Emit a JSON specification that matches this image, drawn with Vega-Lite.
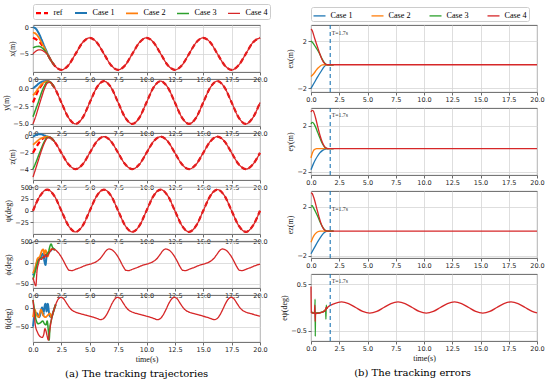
{
"$schema": "https://vega.github.io/schema/vega-lite/v6.json",
"background": "white",
"padding": {"left": 2, "top": 3, "right": 2, "bottom": 3},
"config": {
 "view": {"stroke": "#555", "strokeWidth": 0.9},
 "axis": {"labelFont": "DejaVu Sans", "labelFontSize": 6.5, "labelColor": "#222", "tickSize": 3, "tickColor": "#444", "tickWidth": 0.8, "domain": false, "grid": true, "gridColor": "#d6d6d6", "gridWidth": 0.8, "titleFont": "Liberation Serif", "titleFontSize": 8, "titleFontWeight": "normal", "titleColor": "#111", "labelPadding": 1.5, "titlePadding": 2, "labelFlush": false, "labelOverlap": false},
 "line": {"interpolate": "monotone", "strokeCap": "butt"}
},
"datasets": {
 "marker": [{"t": 1.7, "label": "T=1.7s"}],
 "px": [
  {"t":0,"s":"ref","v":-2},{"t":0.625,"s":"ref","v":-2.879},{"t":1.25,"s":"ref","v":-5},{"t":1.875,"s":"ref","v":-7.121},{"t":2.5,"s":"ref","v":-8},{"t":3.125,"s":"ref","v":-7.121},{"t":3.75,"s":"ref","v":-5},{"t":4.375,"s":"ref","v":-2.879},{"t":5,"s":"ref","v":-2},{"t":5.625,"s":"ref","v":-2.879},{"t":6.25,"s":"ref","v":-5},{"t":6.875,"s":"ref","v":-7.121},{"t":7.5,"s":"ref","v":-8},{"t":8.125,"s":"ref","v":-7.121},{"t":8.75,"s":"ref","v":-5},{"t":9.375,"s":"ref","v":-2.879},{"t":10,"s":"ref","v":-2},{"t":10.625,"s":"ref","v":-2.879},{"t":11.25,"s":"ref","v":-5},{"t":11.875,"s":"ref","v":-7.121},{"t":12.5,"s":"ref","v":-8},{"t":13.125,"s":"ref","v":-7.121},{"t":13.75,"s":"ref","v":-5},{"t":14.375,"s":"ref","v":-2.879},{"t":15,"s":"ref","v":-2},{"t":15.625,"s":"ref","v":-2.879},{"t":16.25,"s":"ref","v":-5},{"t":16.875,"s":"ref","v":-7.121},{"t":17.5,"s":"ref","v":-8},{"t":18.125,"s":"ref","v":-7.121},{"t":18.75,"s":"ref","v":-5},{"t":19.375,"s":"ref","v":-2.879},{"t":20,"s":"ref","v":-2},
  {"t":0,"s":"Case 1","v":0},{"t":0.25,"s":"Case 1","v":-0.3},{"t":0.5,"s":"Case 1","v":-1.1},{"t":0.75,"s":"Case 1","v":-2.3},{"t":1,"s":"Case 1","v":-3.6},{"t":1.25,"s":"Case 1","v":-4.8},{"t":1.4,"s":"Case 1","v":-5.56},{"t":1.5,"s":"Case 1","v":-5.93},{"t":1.875,"s":"Case 1","v":-7.121},
  {"t":0,"s":"Case 2","v":-1},{"t":0.25,"s":"Case 2","v":-1.25},{"t":0.5,"s":"Case 2","v":-1.9},{"t":0.75,"s":"Case 2","v":-2.9},{"t":1,"s":"Case 2","v":-3.9},{"t":1.25,"s":"Case 2","v":-4.95},{"t":1.4,"s":"Case 2","v":-5.56},{"t":1.5,"s":"Case 2","v":-5.93},{"t":1.875,"s":"Case 2","v":-7.121},
  {"t":0,"s":"Case 3","v":-3.9},{"t":0.25,"s":"Case 3","v":-3.65},{"t":0.5,"s":"Case 3","v":-3.6},{"t":0.75,"s":"Case 3","v":-3.8},{"t":1,"s":"Case 3","v":-4.3},{"t":1.25,"s":"Case 3","v":-5.0},{"t":1.4,"s":"Case 3","v":-5.56},{"t":1.5,"s":"Case 3","v":-5.93},{"t":1.875,"s":"Case 3","v":-7.121},
  {"t":0,"s":"Case 4","v":-5},{"t":0.25,"s":"Case 4","v":-4.5},{"t":0.5,"s":"Case 4","v":-4.25},{"t":0.75,"s":"Case 4","v":-4.3},{"t":1,"s":"Case 4","v":-4.6},{"t":1.25,"s":"Case 4","v":-5.05},{"t":1.4,"s":"Case 4","v":-5.56},{"t":1.5,"s":"Case 4","v":-5.93},{"t":1.875,"s":"Case 4","v":-7.121},
  {"t":2.5,"s":"Case 4","v":-8},{"t":3.125,"s":"Case 4","v":-7.121},{"t":3.75,"s":"Case 4","v":-5},{"t":4.375,"s":"Case 4","v":-2.879},{"t":5,"s":"Case 4","v":-2},{"t":5.625,"s":"Case 4","v":-2.879},{"t":6.25,"s":"Case 4","v":-5},{"t":6.875,"s":"Case 4","v":-7.121},{"t":7.5,"s":"Case 4","v":-8},{"t":8.125,"s":"Case 4","v":-7.121},{"t":8.75,"s":"Case 4","v":-5},{"t":9.375,"s":"Case 4","v":-2.879},{"t":10,"s":"Case 4","v":-2},{"t":10.625,"s":"Case 4","v":-2.879},{"t":11.25,"s":"Case 4","v":-5},{"t":11.875,"s":"Case 4","v":-7.121},{"t":12.5,"s":"Case 4","v":-8},{"t":13.125,"s":"Case 4","v":-7.121},{"t":13.75,"s":"Case 4","v":-5},{"t":14.375,"s":"Case 4","v":-2.879},{"t":15,"s":"Case 4","v":-2},{"t":15.625,"s":"Case 4","v":-2.879},{"t":16.25,"s":"Case 4","v":-5},{"t":16.875,"s":"Case 4","v":-7.121},{"t":17.5,"s":"Case 4","v":-8},{"t":18.125,"s":"Case 4","v":-7.121},{"t":18.75,"s":"Case 4","v":-5},{"t":19.375,"s":"Case 4","v":-2.879},{"t":20,"s":"Case 4","v":-2}
 ],
 "py": [
  {"t":0,"s":"ref","v":-2},{"t":0.625,"s":"ref","v":0.121},{"t":1.25,"s":"ref","v":1},{"t":1.875,"s":"ref","v":0.121},{"t":2.5,"s":"ref","v":-2},{"t":3.125,"s":"ref","v":-4.121},{"t":3.75,"s":"ref","v":-5},{"t":4.375,"s":"ref","v":-4.121},{"t":5,"s":"ref","v":-2},{"t":5.625,"s":"ref","v":0.121},{"t":6.25,"s":"ref","v":1},{"t":6.875,"s":"ref","v":0.121},{"t":7.5,"s":"ref","v":-2},{"t":8.125,"s":"ref","v":-4.121},{"t":8.75,"s":"ref","v":-5},{"t":9.375,"s":"ref","v":-4.121},{"t":10,"s":"ref","v":-2},{"t":10.625,"s":"ref","v":0.121},{"t":11.25,"s":"ref","v":1},{"t":11.875,"s":"ref","v":0.121},{"t":12.5,"s":"ref","v":-2},{"t":13.125,"s":"ref","v":-4.121},{"t":13.75,"s":"ref","v":-5},{"t":14.375,"s":"ref","v":-4.121},{"t":15,"s":"ref","v":-2},{"t":15.625,"s":"ref","v":0.121},{"t":16.25,"s":"ref","v":1},{"t":16.875,"s":"ref","v":0.121},{"t":17.5,"s":"ref","v":-2},{"t":18.125,"s":"ref","v":-4.121},{"t":18.75,"s":"ref","v":-5},{"t":19.375,"s":"ref","v":-4.121},{"t":20,"s":"ref","v":-2},
  {"t":0,"s":"Case 1","v":0},{"t":0.25,"s":"Case 1","v":0.3},{"t":0.5,"s":"Case 1","v":0.65},{"t":0.75,"s":"Case 1","v":0.9},{"t":1,"s":"Case 1","v":1.0},{"t":1.25,"s":"Case 1","v":1.0},{"t":1.5,"s":"Case 1","v":0.853},{"t":1.875,"s":"Case 1","v":0.121},
  {"t":0,"s":"Case 2","v":-1},{"t":0.25,"s":"Case 2","v":-0.5},{"t":0.5,"s":"Case 2","v":0.05},{"t":0.75,"s":"Case 2","v":0.55},{"t":1,"s":"Case 2","v":0.85},{"t":1.25,"s":"Case 2","v":0.98},{"t":1.5,"s":"Case 2","v":0.853},{"t":1.875,"s":"Case 2","v":0.121},
  {"t":0,"s":"Case 3","v":-4},{"t":0.25,"s":"Case 3","v":-2.9},{"t":0.5,"s":"Case 3","v":-1.8},{"t":0.75,"s":"Case 3","v":-0.6},{"t":1,"s":"Case 3","v":0.3},{"t":1.25,"s":"Case 3","v":0.85},{"t":1.5,"s":"Case 3","v":0.853},{"t":1.875,"s":"Case 3","v":0.121},
  {"t":0,"s":"Case 4","v":-5},{"t":0.25,"s":"Case 4","v":-3.9},{"t":0.5,"s":"Case 4","v":-2.6},{"t":0.75,"s":"Case 4","v":-1.3},{"t":1,"s":"Case 4","v":-0.1},{"t":1.25,"s":"Case 4","v":0.7},{"t":1.5,"s":"Case 4","v":0.853},{"t":1.875,"s":"Case 4","v":0.121},
  {"t":2.5,"s":"Case 4","v":-2},{"t":3.125,"s":"Case 4","v":-4.121},{"t":3.75,"s":"Case 4","v":-5},{"t":4.375,"s":"Case 4","v":-4.121},{"t":5,"s":"Case 4","v":-2},{"t":5.625,"s":"Case 4","v":0.121},{"t":6.25,"s":"Case 4","v":1},{"t":6.875,"s":"Case 4","v":0.121},{"t":7.5,"s":"Case 4","v":-2},{"t":8.125,"s":"Case 4","v":-4.121},{"t":8.75,"s":"Case 4","v":-5},{"t":9.375,"s":"Case 4","v":-4.121},{"t":10,"s":"Case 4","v":-2},{"t":10.625,"s":"Case 4","v":0.121},{"t":11.25,"s":"Case 4","v":1},{"t":11.875,"s":"Case 4","v":0.121},{"t":12.5,"s":"Case 4","v":-2},{"t":13.125,"s":"Case 4","v":-4.121},{"t":13.75,"s":"Case 4","v":-5},{"t":14.375,"s":"Case 4","v":-4.121},{"t":15,"s":"Case 4","v":-2},{"t":15.625,"s":"Case 4","v":0.121},{"t":16.25,"s":"Case 4","v":1},{"t":16.875,"s":"Case 4","v":0.121},{"t":17.5,"s":"Case 4","v":-2},{"t":18.125,"s":"Case 4","v":-4.121},{"t":18.75,"s":"Case 4","v":-5},{"t":19.375,"s":"Case 4","v":-4.121},{"t":20,"s":"Case 4","v":-2}
 ],
 "pz": [
  {"t":0,"s":"ref","v":-2},{"t":0.625,"s":"ref","v":-0.586},{"t":1.25,"s":"ref","v":0},{"t":1.875,"s":"ref","v":-0.586},{"t":2.5,"s":"ref","v":-2},{"t":3.125,"s":"ref","v":-3.414},{"t":3.75,"s":"ref","v":-4},{"t":4.375,"s":"ref","v":-3.414},{"t":5,"s":"ref","v":-2},{"t":5.625,"s":"ref","v":-0.586},{"t":6.25,"s":"ref","v":0},{"t":6.875,"s":"ref","v":-0.586},{"t":7.5,"s":"ref","v":-2},{"t":8.125,"s":"ref","v":-3.414},{"t":8.75,"s":"ref","v":-4},{"t":9.375,"s":"ref","v":-3.414},{"t":10,"s":"ref","v":-2},{"t":10.625,"s":"ref","v":-0.586},{"t":11.25,"s":"ref","v":0},{"t":11.875,"s":"ref","v":-0.586},{"t":12.5,"s":"ref","v":-2},{"t":13.125,"s":"ref","v":-3.414},{"t":13.75,"s":"ref","v":-4},{"t":14.375,"s":"ref","v":-3.414},{"t":15,"s":"ref","v":-2},{"t":15.625,"s":"ref","v":-0.586},{"t":16.25,"s":"ref","v":0},{"t":16.875,"s":"ref","v":-0.586},{"t":17.5,"s":"ref","v":-2},{"t":18.125,"s":"ref","v":-3.414},{"t":18.75,"s":"ref","v":-4},{"t":19.375,"s":"ref","v":-3.414},{"t":20,"s":"ref","v":-2},
  {"t":0,"s":"Case 1","v":0},{"t":0.25,"s":"Case 1","v":0.2},{"t":0.5,"s":"Case 1","v":0.3},{"t":0.75,"s":"Case 1","v":0.28},{"t":1,"s":"Case 1","v":0.15},{"t":1.25,"s":"Case 1","v":0.02},{"t":1.5,"s":"Case 1","v":-0.098},{"t":1.875,"s":"Case 1","v":-0.586},
  {"t":0,"s":"Case 2","v":-1},{"t":0.25,"s":"Case 2","v":-0.7},{"t":0.5,"s":"Case 2","v":-0.4},{"t":0.75,"s":"Case 2","v":-0.2},{"t":1,"s":"Case 2","v":-0.05},{"t":1.25,"s":"Case 2","v":0},{"t":1.5,"s":"Case 2","v":-0.098},{"t":1.875,"s":"Case 2","v":-0.586},
  {"t":0,"s":"Case 3","v":-4},{"t":0.25,"s":"Case 3","v":-3.2},{"t":0.5,"s":"Case 3","v":-2.3},{"t":0.75,"s":"Case 3","v":-1.4},{"t":1,"s":"Case 3","v":-0.6},{"t":1.25,"s":"Case 3","v":-0.1},{"t":1.5,"s":"Case 3","v":-0.098},{"t":1.875,"s":"Case 3","v":-0.586},
  {"t":0,"s":"Case 4","v":-5},{"t":0.25,"s":"Case 4","v":-3.9},{"t":0.5,"s":"Case 4","v":-2.8},{"t":0.75,"s":"Case 4","v":-1.7},{"t":1,"s":"Case 4","v":-0.8},{"t":1.25,"s":"Case 4","v":-0.2},{"t":1.5,"s":"Case 4","v":-0.098},{"t":1.875,"s":"Case 4","v":-0.586},
  {"t":2.5,"s":"Case 4","v":-2},{"t":3.125,"s":"Case 4","v":-3.414},{"t":3.75,"s":"Case 4","v":-4},{"t":4.375,"s":"Case 4","v":-3.414},{"t":5,"s":"Case 4","v":-2},{"t":5.625,"s":"Case 4","v":-0.586},{"t":6.25,"s":"Case 4","v":0},{"t":6.875,"s":"Case 4","v":-0.586},{"t":7.5,"s":"Case 4","v":-2},{"t":8.125,"s":"Case 4","v":-3.414},{"t":8.75,"s":"Case 4","v":-4},{"t":9.375,"s":"Case 4","v":-3.414},{"t":10,"s":"Case 4","v":-2},{"t":10.625,"s":"Case 4","v":-0.586},{"t":11.25,"s":"Case 4","v":0},{"t":11.875,"s":"Case 4","v":-0.586},{"t":12.5,"s":"Case 4","v":-2},{"t":13.125,"s":"Case 4","v":-3.414},{"t":13.75,"s":"Case 4","v":-4},{"t":14.375,"s":"Case 4","v":-3.414},{"t":15,"s":"Case 4","v":-2},{"t":15.625,"s":"Case 4","v":-0.586},{"t":16.25,"s":"Case 4","v":0},{"t":16.875,"s":"Case 4","v":-0.586},{"t":17.5,"s":"Case 4","v":-2},{"t":18.125,"s":"Case 4","v":-3.414},{"t":18.75,"s":"Case 4","v":-4},{"t":19.375,"s":"Case 4","v":-3.414},{"t":20,"s":"Case 4","v":-2}
 ],
 "ppsi": [
  {"t":0,"s":"ref","v":0},{"t":0.625,"s":"ref","v":31.82},{"t":1.25,"s":"ref","v":45},{"t":1.875,"s":"ref","v":31.82},{"t":2.5,"s":"ref","v":0},{"t":3.125,"s":"ref","v":-31.82},{"t":3.75,"s":"ref","v":-45},{"t":4.375,"s":"ref","v":-31.82},{"t":5,"s":"ref","v":0},{"t":5.625,"s":"ref","v":31.82},{"t":6.25,"s":"ref","v":45},{"t":6.875,"s":"ref","v":31.82},{"t":7.5,"s":"ref","v":0},{"t":8.125,"s":"ref","v":-31.82},{"t":8.75,"s":"ref","v":-45},{"t":9.375,"s":"ref","v":-31.82},{"t":10,"s":"ref","v":0},{"t":10.625,"s":"ref","v":31.82},{"t":11.25,"s":"ref","v":45},{"t":11.875,"s":"ref","v":31.82},{"t":12.5,"s":"ref","v":0},{"t":13.125,"s":"ref","v":-31.82},{"t":13.75,"s":"ref","v":-45},{"t":14.375,"s":"ref","v":-31.82},{"t":15,"s":"ref","v":0},{"t":15.625,"s":"ref","v":31.82},{"t":16.25,"s":"ref","v":45},{"t":16.875,"s":"ref","v":31.82},{"t":17.5,"s":"ref","v":0},{"t":18.125,"s":"ref","v":-31.82},{"t":18.75,"s":"ref","v":-45},{"t":19.375,"s":"ref","v":-31.82},{"t":20,"s":"ref","v":0},
  {"t":0,"s":"Case 4","v":0},{"t":0.625,"s":"Case 4","v":31.82},{"t":1.25,"s":"Case 4","v":45},{"t":1.875,"s":"Case 4","v":31.82},{"t":2.5,"s":"Case 4","v":0},{"t":3.125,"s":"Case 4","v":-31.82},{"t":3.75,"s":"Case 4","v":-45},{"t":4.375,"s":"Case 4","v":-31.82},{"t":5,"s":"Case 4","v":0},{"t":5.625,"s":"Case 4","v":31.82},{"t":6.25,"s":"Case 4","v":45},{"t":6.875,"s":"Case 4","v":31.82},{"t":7.5,"s":"Case 4","v":0},{"t":8.125,"s":"Case 4","v":-31.82},{"t":8.75,"s":"Case 4","v":-45},{"t":9.375,"s":"Case 4","v":-31.82},{"t":10,"s":"Case 4","v":0},{"t":10.625,"s":"Case 4","v":31.82},{"t":11.25,"s":"Case 4","v":45},{"t":11.875,"s":"Case 4","v":31.82},{"t":12.5,"s":"Case 4","v":0},{"t":13.125,"s":"Case 4","v":-31.82},{"t":13.75,"s":"Case 4","v":-45},{"t":14.375,"s":"Case 4","v":-31.82},{"t":15,"s":"Case 4","v":0},{"t":15.625,"s":"Case 4","v":31.82},{"t":16.25,"s":"Case 4","v":45},{"t":16.875,"s":"Case 4","v":31.82},{"t":17.5,"s":"Case 4","v":0},{"t":18.125,"s":"Case 4","v":-31.82},{"t":18.75,"s":"Case 4","v":-45},{"t":19.375,"s":"Case 4","v":-31.82},{"t":20,"s":"Case 4","v":0}
 ],
 "pphi": [
  {"t":0,"s":"Case 1","v":-30},{"t":0.2,"s":"Case 1","v":-15},{"t":0.4,"s":"Case 1","v":5},{"t":0.6,"s":"Case 1","v":10},{"t":0.8,"s":"Case 1","v":20},{"t":0.9,"s":"Case 1","v":22},{"t":1.0,"s":"Case 1","v":5},{"t":1.1,"s":"Case 1","v":-5},{"t":1.2,"s":"Case 1","v":15},{"t":1.4,"s":"Case 1","v":25},{"t":1.6,"s":"Case 1","v":30},{"t":1.7,"s":"Case 1","v":33},{"t":1.95,"s":"Case 1","v":31},
  {"t":0,"s":"Case 2","v":-25},{"t":0.2,"s":"Case 2","v":-10},{"t":0.4,"s":"Case 2","v":10},{"t":0.6,"s":"Case 2","v":15},{"t":0.8,"s":"Case 2","v":30},{"t":0.9,"s":"Case 2","v":32},{"t":1.0,"s":"Case 2","v":20},{"t":1.1,"s":"Case 2","v":30},{"t":1.2,"s":"Case 2","v":25},{"t":1.3,"s":"Case 2","v":15},{"t":1.45,"s":"Case 2","v":28},{"t":1.7,"s":"Case 2","v":33},{"t":1.95,"s":"Case 2","v":31},
  {"t":0,"s":"Case 3","v":-40},{"t":0.2,"s":"Case 3","v":-20},{"t":0.4,"s":"Case 3","v":0},{"t":0.6,"s":"Case 3","v":10},{"t":0.8,"s":"Case 3","v":12},{"t":1.0,"s":"Case 3","v":15},{"t":1.2,"s":"Case 3","v":20},{"t":1.35,"s":"Case 3","v":25},{"t":1.5,"s":"Case 3","v":40},{"t":1.6,"s":"Case 3","v":45},{"t":1.7,"s":"Case 3","v":38},{"t":1.85,"s":"Case 3","v":33},{"t":1.95,"s":"Case 3","v":31},
  {"t":0,"s":"Case 4","v":-35},{"t":0.1,"s":"Case 4","v":-45},{"t":0.25,"s":"Case 4","v":-55},{"t":0.35,"s":"Case 4","v":-20},{"t":0.5,"s":"Case 4","v":0},{"t":0.6,"s":"Case 4","v":10},{"t":0.75,"s":"Case 4","v":8},{"t":0.9,"s":"Case 4","v":15},{"t":1.0,"s":"Case 4","v":12},{"t":1.1,"s":"Case 4","v":20},{"t":1.2,"s":"Case 4","v":15},{"t":1.3,"s":"Case 4","v":18},{"t":1.45,"s":"Case 4","v":25},{"t":1.6,"s":"Case 4","v":30},
  {"t":1.7,"s":"Case 4","v":33},{"t":1.95,"s":"Case 4","v":31},{"t":2.2,"s":"Case 4","v":25},{"t":2.45,"s":"Case 4","v":16},{"t":2.7,"s":"Case 4","v":4},{"t":2.95,"s":"Case 4","v":-9},{"t":3.2,"s":"Case 4","v":-18},{"t":3.45,"s":"Case 4","v":-18.5},{"t":3.7,"s":"Case 4","v":-16},{"t":3.95,"s":"Case 4","v":-13.5},{"t":4.2,"s":"Case 4","v":-11},{"t":4.45,"s":"Case 4","v":-8},{"t":4.7,"s":"Case 4","v":-5.5},{"t":4.95,"s":"Case 4","v":-3.5},{"t":5.2,"s":"Case 4","v":-1.5},{"t":5.45,"s":"Case 4","v":1},{"t":5.7,"s":"Case 4","v":5},{"t":5.95,"s":"Case 4","v":11},{"t":6.2,"s":"Case 4","v":20},{"t":6.45,"s":"Case 4","v":29},
  {"t":6.7,"s":"Case 4","v":33},{"t":6.95,"s":"Case 4","v":31},{"t":7.2,"s":"Case 4","v":25},{"t":7.45,"s":"Case 4","v":16},{"t":7.7,"s":"Case 4","v":4},{"t":7.95,"s":"Case 4","v":-9},{"t":8.2,"s":"Case 4","v":-18},{"t":8.45,"s":"Case 4","v":-18.5},{"t":8.7,"s":"Case 4","v":-16},{"t":8.95,"s":"Case 4","v":-13.5},{"t":9.2,"s":"Case 4","v":-11},{"t":9.45,"s":"Case 4","v":-8},{"t":9.7,"s":"Case 4","v":-5.5},{"t":9.95,"s":"Case 4","v":-3.5},{"t":10.2,"s":"Case 4","v":-1.5},{"t":10.45,"s":"Case 4","v":1},{"t":10.7,"s":"Case 4","v":5},{"t":10.95,"s":"Case 4","v":11},{"t":11.2,"s":"Case 4","v":20},{"t":11.45,"s":"Case 4","v":29},
  {"t":11.7,"s":"Case 4","v":33},{"t":11.95,"s":"Case 4","v":31},{"t":12.2,"s":"Case 4","v":25},{"t":12.45,"s":"Case 4","v":16},{"t":12.7,"s":"Case 4","v":4},{"t":12.95,"s":"Case 4","v":-9},{"t":13.2,"s":"Case 4","v":-18},{"t":13.45,"s":"Case 4","v":-18.5},{"t":13.7,"s":"Case 4","v":-16},{"t":13.95,"s":"Case 4","v":-13.5},{"t":14.2,"s":"Case 4","v":-11},{"t":14.45,"s":"Case 4","v":-8},{"t":14.7,"s":"Case 4","v":-5.5},{"t":14.95,"s":"Case 4","v":-3.5},{"t":15.2,"s":"Case 4","v":-1.5},{"t":15.45,"s":"Case 4","v":1},{"t":15.7,"s":"Case 4","v":5},{"t":15.95,"s":"Case 4","v":11},{"t":16.2,"s":"Case 4","v":20},{"t":16.45,"s":"Case 4","v":29},
  {"t":16.7,"s":"Case 4","v":33},{"t":16.95,"s":"Case 4","v":31},{"t":17.2,"s":"Case 4","v":25},{"t":17.45,"s":"Case 4","v":16},{"t":17.7,"s":"Case 4","v":4},{"t":17.95,"s":"Case 4","v":-9},{"t":18.2,"s":"Case 4","v":-18},{"t":18.45,"s":"Case 4","v":-18.5},{"t":18.7,"s":"Case 4","v":-16},{"t":18.95,"s":"Case 4","v":-13.5},{"t":19.2,"s":"Case 4","v":-11},{"t":19.45,"s":"Case 4","v":-8},{"t":19.7,"s":"Case 4","v":-5.5},{"t":19.95,"s":"Case 4","v":-3.5},{"t":20,"s":"Case 4","v":-3}
 ],
 "ptheta": [
  {"t":0,"s":"Case 1","v":-50},{"t":0.15,"s":"Case 1","v":-20},{"t":0.35,"s":"Case 1","v":-15},{"t":0.55,"s":"Case 1","v":-25},{"t":0.7,"s":"Case 1","v":-10},{"t":0.8,"s":"Case 1","v":0},{"t":0.9,"s":"Case 1","v":-20},{"t":1.0,"s":"Case 1","v":0},{"t":1.1,"s":"Case 1","v":10},{"t":1.2,"s":"Case 1","v":-10},{"t":1.3,"s":"Case 1","v":10},{"t":1.45,"s":"Case 1","v":-20},{"t":1.6,"s":"Case 1","v":-25},{"t":1.8,"s":"Case 1","v":-10},{"t":2.0,"s":"Case 1","v":8},
  {"t":0,"s":"Case 2","v":-25},{"t":0.15,"s":"Case 2","v":-5},{"t":0.3,"s":"Case 2","v":-18},{"t":0.5,"s":"Case 2","v":-25},{"t":0.7,"s":"Case 2","v":-5},{"t":0.9,"s":"Case 2","v":-20},{"t":1.1,"s":"Case 2","v":-25},{"t":1.3,"s":"Case 2","v":-20},{"t":1.5,"s":"Case 2","v":-15},{"t":1.6,"s":"Case 2","v":-25},{"t":1.8,"s":"Case 2","v":-10},{"t":2.0,"s":"Case 2","v":8},
  {"t":0,"s":"Case 3","v":20},{"t":0.1,"s":"Case 3","v":0},{"t":0.25,"s":"Case 3","v":-30},{"t":0.45,"s":"Case 3","v":-42},{"t":0.65,"s":"Case 3","v":-40},{"t":0.85,"s":"Case 3","v":-35},{"t":1.0,"s":"Case 3","v":-42},{"t":1.15,"s":"Case 3","v":-45},{"t":1.25,"s":"Case 3","v":-35},{"t":1.35,"s":"Case 3","v":-60},{"t":1.42,"s":"Case 3","v":-85},{"t":1.5,"s":"Case 3","v":-50},{"t":1.6,"s":"Case 3","v":-35},{"t":1.8,"s":"Case 3","v":-10},{"t":2.0,"s":"Case 3","v":8},
  {"t":0,"s":"Case 4","v":20},{"t":0.1,"s":"Case 4","v":-10},{"t":0.2,"s":"Case 4","v":-45},{"t":0.4,"s":"Case 4","v":-65},{"t":0.6,"s":"Case 4","v":-75},{"t":0.8,"s":"Case 4","v":-78},{"t":0.95,"s":"Case 4","v":-70},{"t":1.05,"s":"Case 4","v":-55},{"t":1.15,"s":"Case 4","v":-62},{"t":1.25,"s":"Case 4","v":-75},{"t":1.35,"s":"Case 4","v":-85},{"t":1.45,"s":"Case 4","v":-65},{"t":1.6,"s":"Case 4","v":-35},{"t":1.8,"s":"Case 4","v":-10},{"t":2.0,"s":"Case 4","v":8},{"t":2.2,"s":"Case 4","v":21},
  {"t":2.45,"s":"Case 4","v":27},{"t":2.7,"s":"Case 4","v":23},{"t":2.95,"s":"Case 4","v":12},{"t":3.2,"s":"Case 4","v":1},{"t":3.45,"s":"Case 4","v":-7},{"t":3.7,"s":"Case 4","v":-11},{"t":3.95,"s":"Case 4","v":-14},{"t":4.2,"s":"Case 4","v":-16},{"t":4.45,"s":"Case 4","v":-18},{"t":4.7,"s":"Case 4","v":-20},{"t":4.95,"s":"Case 4","v":-22},{"t":5.2,"s":"Case 4","v":-24},{"t":5.45,"s":"Case 4","v":-26.5},{"t":5.7,"s":"Case 4","v":-29},{"t":5.95,"s":"Case 4","v":-31.5},{"t":6.2,"s":"Case 4","v":-29},{"t":6.45,"s":"Case 4","v":-20},{"t":6.7,"s":"Case 4","v":-6},{"t":6.95,"s":"Case 4","v":10},{"t":7.2,"s":"Case 4","v":22},
  {"t":7.45,"s":"Case 4","v":27},{"t":7.7,"s":"Case 4","v":23},{"t":7.95,"s":"Case 4","v":12},{"t":8.2,"s":"Case 4","v":1},{"t":8.45,"s":"Case 4","v":-7},{"t":8.7,"s":"Case 4","v":-11},{"t":8.95,"s":"Case 4","v":-14},{"t":9.2,"s":"Case 4","v":-16},{"t":9.45,"s":"Case 4","v":-18},{"t":9.7,"s":"Case 4","v":-20},{"t":9.95,"s":"Case 4","v":-22},{"t":10.2,"s":"Case 4","v":-24},{"t":10.45,"s":"Case 4","v":-26.5},{"t":10.7,"s":"Case 4","v":-29},{"t":10.95,"s":"Case 4","v":-31.5},{"t":11.2,"s":"Case 4","v":-29},{"t":11.45,"s":"Case 4","v":-20},{"t":11.7,"s":"Case 4","v":-6},{"t":11.95,"s":"Case 4","v":10},{"t":12.2,"s":"Case 4","v":22},
  {"t":12.45,"s":"Case 4","v":27},{"t":12.7,"s":"Case 4","v":23},{"t":12.95,"s":"Case 4","v":12},{"t":13.2,"s":"Case 4","v":1},{"t":13.45,"s":"Case 4","v":-7},{"t":13.7,"s":"Case 4","v":-11},{"t":13.95,"s":"Case 4","v":-14},{"t":14.2,"s":"Case 4","v":-16},{"t":14.45,"s":"Case 4","v":-18},{"t":14.7,"s":"Case 4","v":-20},{"t":14.95,"s":"Case 4","v":-22},{"t":15.2,"s":"Case 4","v":-24},{"t":15.45,"s":"Case 4","v":-26.5},{"t":15.7,"s":"Case 4","v":-29},{"t":15.95,"s":"Case 4","v":-31.5},{"t":16.2,"s":"Case 4","v":-29},{"t":16.45,"s":"Case 4","v":-20},{"t":16.7,"s":"Case 4","v":-6},{"t":16.95,"s":"Case 4","v":10},{"t":17.2,"s":"Case 4","v":22},
  {"t":17.45,"s":"Case 4","v":27},{"t":17.7,"s":"Case 4","v":23},{"t":17.95,"s":"Case 4","v":12},{"t":18.2,"s":"Case 4","v":1},{"t":18.45,"s":"Case 4","v":-7},{"t":18.7,"s":"Case 4","v":-11},{"t":18.95,"s":"Case 4","v":-14},{"t":19.2,"s":"Case 4","v":-16},{"t":19.45,"s":"Case 4","v":-18},{"t":19.7,"s":"Case 4","v":-20},{"t":19.95,"s":"Case 4","v":-22},{"t":20,"s":"Case 4","v":-22.4}
 ],
 "ex": [
  {"t":0,"s":"Case 1","v":-2},{"t":0.3,"s":"Case 1","v":-1.5},{"t":0.6,"s":"Case 1","v":-1.0},{"t":0.9,"s":"Case 1","v":-0.55},{"t":1.1,"s":"Case 1","v":-0.25},{"t":1.3,"s":"Case 1","v":-0.05},{"t":1.45,"s":"Case 1","v":0},{"t":2,"s":"Case 1","v":0},
  {"t":0,"s":"Case 2","v":-1},{"t":0.2,"s":"Case 2","v":-0.8},{"t":0.4,"s":"Case 2","v":-0.55},{"t":0.6,"s":"Case 2","v":-0.3},{"t":0.8,"s":"Case 2","v":-0.12},{"t":1.0,"s":"Case 2","v":-0.02},{"t":1.2,"s":"Case 2","v":0},{"t":2,"s":"Case 2","v":0},
  {"t":0,"s":"Case 3","v":2},{"t":0.2,"s":"Case 3","v":1.8},{"t":0.4,"s":"Case 3","v":1.5},{"t":0.6,"s":"Case 3","v":1.2},{"t":0.8,"s":"Case 3","v":0.85},{"t":1.0,"s":"Case 3","v":0.45},{"t":1.2,"s":"Case 3","v":0.15},{"t":1.4,"s":"Case 3","v":0.01},{"t":1.5,"s":"Case 3","v":0},{"t":2,"s":"Case 3","v":0},
  {"t":0,"s":"Case 4","v":3},{"t":0.1,"s":"Case 4","v":2.9},{"t":0.3,"s":"Case 4","v":2.3},{"t":0.5,"s":"Case 4","v":1.7},{"t":0.7,"s":"Case 4","v":1.15},{"t":0.9,"s":"Case 4","v":0.6},{"t":1.1,"s":"Case 4","v":0.22},{"t":1.3,"s":"Case 4","v":0.04},{"t":1.45,"s":"Case 4","v":0},{"t":20,"s":"Case 4","v":0}
 ],
 "ey": [
  {"t":0,"s":"Case 1","v":-1.85},{"t":0.2,"s":"Case 1","v":-1.35},{"t":0.4,"s":"Case 1","v":-0.95},{"t":0.6,"s":"Case 1","v":-0.62},{"t":0.8,"s":"Case 1","v":-0.35},{"t":1.0,"s":"Case 1","v":-0.17},{"t":1.2,"s":"Case 1","v":-0.06},{"t":1.4,"s":"Case 1","v":-0.01},{"t":1.6,"s":"Case 1","v":0},{"t":2,"s":"Case 1","v":0},
  {"t":0,"s":"Case 2","v":-0.8},{"t":0.1,"s":"Case 2","v":-0.45},{"t":0.2,"s":"Case 2","v":-0.2},{"t":0.35,"s":"Case 2","v":-0.05},{"t":0.5,"s":"Case 2","v":0},{"t":2,"s":"Case 2","v":0},
  {"t":0,"s":"Case 3","v":2.15},{"t":0.1,"s":"Case 3","v":2.3},{"t":0.2,"s":"Case 3","v":2.25},{"t":0.4,"s":"Case 3","v":1.9},{"t":0.6,"s":"Case 3","v":1.4},{"t":0.8,"s":"Case 3","v":0.9},{"t":1.0,"s":"Case 3","v":0.45},{"t":1.2,"s":"Case 3","v":0.15},{"t":1.4,"s":"Case 3","v":0.02},{"t":1.55,"s":"Case 3","v":0},{"t":2,"s":"Case 3","v":0},
  {"t":0,"s":"Case 4","v":3.2},{"t":0.1,"s":"Case 4","v":3.35},{"t":0.2,"s":"Case 4","v":3.3},{"t":0.4,"s":"Case 4","v":2.7},{"t":0.6,"s":"Case 4","v":1.9},{"t":0.8,"s":"Case 4","v":1.15},{"t":1.0,"s":"Case 4","v":0.55},{"t":1.2,"s":"Case 4","v":0.18},{"t":1.4,"s":"Case 4","v":0.03},{"t":1.55,"s":"Case 4","v":0},{"t":20,"s":"Case 4","v":0}
 ],
 "ez": [
  {"t":0,"s":"Case 1","v":-1.85},{"t":0.3,"s":"Case 1","v":-1.35},{"t":0.6,"s":"Case 1","v":-0.85},{"t":0.9,"s":"Case 1","v":-0.42},{"t":1.1,"s":"Case 1","v":-0.18},{"t":1.3,"s":"Case 1","v":-0.04},{"t":1.45,"s":"Case 1","v":0},{"t":2,"s":"Case 1","v":0},
  {"t":0,"s":"Case 2","v":-0.9},{"t":0.15,"s":"Case 2","v":-0.55},{"t":0.3,"s":"Case 2","v":-0.3},{"t":0.5,"s":"Case 2","v":-0.1},{"t":0.7,"s":"Case 2","v":-0.01},{"t":0.8,"s":"Case 2","v":0},{"t":2,"s":"Case 2","v":0},
  {"t":0,"s":"Case 3","v":2.05},{"t":0.1,"s":"Case 3","v":2.1},{"t":0.2,"s":"Case 3","v":1.95},{"t":0.4,"s":"Case 3","v":1.6},{"t":0.6,"s":"Case 3","v":1.2},{"t":0.8,"s":"Case 3","v":0.75},{"t":1.0,"s":"Case 3","v":0.38},{"t":1.2,"s":"Case 3","v":0.12},{"t":1.4,"s":"Case 3","v":0.01},{"t":1.5,"s":"Case 3","v":0},{"t":2,"s":"Case 3","v":0},
  {"t":0,"s":"Case 4","v":3.15},{"t":0.1,"s":"Case 4","v":3.1},{"t":0.3,"s":"Case 4","v":2.6},{"t":0.5,"s":"Case 4","v":1.9},{"t":0.7,"s":"Case 4","v":1.2},{"t":0.9,"s":"Case 4","v":0.6},{"t":1.1,"s":"Case 4","v":0.22},{"t":1.3,"s":"Case 4","v":0.04},{"t":1.45,"s":"Case 4","v":0},{"t":20,"s":"Case 4","v":0}
 ],
 "epsi": [
  {"t":0,"s":"Case 1","v":-0.1},{"t":0.5,"s":"Case 1","v":-0.12},{"t":1.0,"s":"Case 1","v":-0.1},{"t":1.45,"s":"Case 1","v":0},
  {"t":0,"s":"Case 2","v":-0.1},{"t":0.5,"s":"Case 2","v":-0.12},{"t":1.0,"s":"Case 2","v":-0.1},{"t":1.45,"s":"Case 2","v":0},
  {"t":0,"s":"Case 3","v":-0.1},{"t":0.3,"s":"Case 3","v":-0.12},{"t":0.34,"s":"Case 3","v":-0.12},{"t":0.36,"s":"Case 3","v":0.18},{"t":0.38,"s":"Case 3","v":-0.62},{"t":0.4,"s":"Case 3","v":-0.12},{"t":0.8,"s":"Case 3","v":-0.11},{"t":1.2,"s":"Case 3","v":-0.08},{"t":1.3,"s":"Case 3","v":-0.06},{"t":1.32,"s":"Case 3","v":-0.25},{"t":1.35,"s":"Case 3","v":0.05},{"t":1.38,"s":"Case 3","v":-0.02},{"t":1.45,"s":"Case 3","v":0},
  {"t":0,"s":"Case 4","v":0.45},{"t":0.03,"s":"Case 4","v":-0.1},{"t":0.1,"s":"Case 4","v":-0.12},{"t":0.3,"s":"Case 4","v":-0.12},{"t":0.34,"s":"Case 4","v":0.05},{"t":0.37,"s":"Case 4","v":-0.3},{"t":0.4,"s":"Case 4","v":-0.13},{"t":0.7,"s":"Case 4","v":-0.12},{"t":1.0,"s":"Case 4","v":-0.1},{"t":1.25,"s":"Case 4","v":-0.07},{"t":1.3,"s":"Case 4","v":-0.05},{"t":1.33,"s":"Case 4","v":0},{"t":1.36,"s":"Case 4","v":-0.03},{"t":1.45,"s":"Case 4","v":0},
  {"t":2.075,"s":"Case 4","v":0.085},{"t":2.7,"s":"Case 4","v":0.12},{"t":3.325,"s":"Case 4","v":0.085},{"t":3.95,"s":"Case 4","v":0},{"t":4.575,"s":"Case 4","v":-0.085},{"t":5.2,"s":"Case 4","v":-0.12},{"t":5.825,"s":"Case 4","v":-0.085},{"t":6.45,"s":"Case 4","v":0},{"t":7.075,"s":"Case 4","v":0.085},{"t":7.7,"s":"Case 4","v":0.12},{"t":8.325,"s":"Case 4","v":0.085},{"t":8.95,"s":"Case 4","v":0},{"t":9.575,"s":"Case 4","v":-0.085},{"t":10.2,"s":"Case 4","v":-0.12},{"t":10.825,"s":"Case 4","v":-0.085},{"t":11.45,"s":"Case 4","v":0},{"t":12.075,"s":"Case 4","v":0.085},{"t":12.7,"s":"Case 4","v":0.12},{"t":13.325,"s":"Case 4","v":0.085},{"t":13.95,"s":"Case 4","v":0},{"t":14.575,"s":"Case 4","v":-0.085},{"t":15.2,"s":"Case 4","v":-0.12},{"t":15.825,"s":"Case 4","v":-0.085},{"t":16.45,"s":"Case 4","v":0},{"t":17.075,"s":"Case 4","v":0.085},{"t":17.7,"s":"Case 4","v":0.12},{"t":18.325,"s":"Case 4","v":0.085},{"t":18.95,"s":"Case 4","v":0},{"t":19.575,"s":"Case 4","v":-0.085},{"t":20,"s":"Case 4","v":-0.116}
 ]
},
"spacing": 9,
"resolve": {"scale": {"x": "independent", "y": "independent", "color": "independent", "strokeDash": "independent", "strokeWidth": "independent"}, "legend": {"color": "independent", "strokeDash": "independent", "strokeWidth": "independent"}},
"hconcat": [
 {
  "spacing": 7,
  "bounds": "flush",
  "title": {"text": "(a) The tracking trajectories", "orient": "bottom", "font": "DejaVu Serif", "fontSize": 10, "fontWeight": "normal", "color": "#000", "offset": 6, "anchor": "middle"},
  "resolve": {"scale": {"x": "independent", "y": "independent", "color": "independent", "strokeDash": "independent", "strokeWidth": "independent"}, "legend": {"color": "independent", "strokeDash": "independent", "strokeWidth": "independent"}},
  "vconcat": [
   {
    "width": 227, "height": 47, "data": {"name": "px"},
    "encoding": {
     "x": {"field": "t", "type": "quantitative", "scale": {"domain": [0, 20], "nice": false}, "axis": {"values": [0, 2.5, 5, 7.5, 10, 12.5, 15, 17.5, 20], "format": ".1f", "title": null}},
     "y": {"field": "v", "type": "quantitative", "scale": {"domain": [-8.4, 0.4], "nice": false, "zero": false}, "axis": {"values": [-5, 0], "format": "d", "title": "x(m)"}},
     "color": {"field": "s", "type": "nominal", "scale": {"domain": ["ref", "Case 1", "Case 2", "Case 3", "Case 4"], "range": ["#ff0000", "#1f77b4", "#ff7f0e", "#2ca02c", "#d62728"]}, "legend": {"title": null, "orient": "top", "direction": "horizontal", "columns": 5, "symbolType": "stroke", "symbolSize": 144, "labelFont": "Liberation Serif", "labelFontSize": 8.2, "labelColor": "#000", "columnPadding": 7, "gridAlign": "each", "strokeColor": "#cccccc", "padding": 1.5, "cornerRadius": 2, "offset": 4, "labelOffset": 4, "labelLimit": 0}},
     "strokeDash": {"field": "s", "type": "nominal", "scale": {"domain": ["ref", "Case 1", "Case 2", "Case 3", "Case 4"], "range": [[5, 3], [1, 0], [1, 0], [1, 0], [1, 0]]}, "legend": {"title": null, "orient": "top", "direction": "horizontal", "columns": 5, "symbolType": "stroke", "symbolSize": 144, "labelFont": "Liberation Serif", "labelFontSize": 8.2, "labelColor": "#000", "columnPadding": 7, "gridAlign": "each", "strokeColor": "#cccccc", "padding": 1.5, "cornerRadius": 2, "offset": 4, "labelOffset": 4, "labelLimit": 0}},
     "strokeWidth": {"field": "s", "type": "ordinal", "scale": {"domain": ["ref", "Case 1", "Case 2", "Case 3", "Case 4"], "range": [2.2, 1.3, 1.3, 1.3, 1.3]}, "legend": {"title": null, "orient": "top", "direction": "horizontal", "columns": 5, "symbolType": "stroke", "symbolSize": 144, "labelFont": "Liberation Serif", "labelFontSize": 8.2, "labelColor": "#000", "columnPadding": 7, "gridAlign": "each", "strokeColor": "#cccccc", "padding": 1.5, "cornerRadius": 2, "offset": 4, "labelOffset": 4, "labelLimit": 0}}
    },
    "layer": [
     {"transform": [{"filter": "datum.s === 'ref'"}], "mark": "line"},
     {"transform": [{"filter": "datum.s !== 'ref'"}], "mark": "line"}
    ]
   },
   {
    "width": 227, "height": 47, "data": {"name": "py"},
    "encoding": {
     "x": {"field": "t", "type": "quantitative", "scale": {"domain": [0, 20], "nice": false}, "axis": {"values": [0, 2.5, 5, 7.5, 10, 12.5, 15, 17.5, 20], "format": ".1f", "title": null}},
     "y": {"field": "v", "type": "quantitative", "scale": {"domain": [-5.3, 1.3], "nice": false, "zero": false}, "axis": {"values": [-5, -2.5, 0], "format": ".1f", "title": "y(m)"}},
     "color": {"field": "s", "type": "nominal", "scale": {"domain": ["ref", "Case 1", "Case 2", "Case 3", "Case 4"], "range": ["#ff0000", "#1f77b4", "#ff7f0e", "#2ca02c", "#d62728"]}, "legend": null},
     "strokeDash": {"field": "s", "type": "nominal", "scale": {"domain": ["ref", "Case 1", "Case 2", "Case 3", "Case 4"], "range": [[5, 3], [1, 0], [1, 0], [1, 0], [1, 0]]}, "legend": null},
     "strokeWidth": {"field": "s", "type": "ordinal", "scale": {"domain": ["ref", "Case 1", "Case 2", "Case 3", "Case 4"], "range": [2.2, 1.3, 1.3, 1.3, 1.3]}, "legend": null}
    },
    "layer": [
     {"transform": [{"filter": "datum.s === 'ref'"}], "mark": "line"},
     {"transform": [{"filter": "datum.s !== 'ref'"}], "mark": "line"}
    ]
   },
   {
    "width": 227, "height": 47, "data": {"name": "pz"},
    "encoding": {
     "x": {"field": "t", "type": "quantitative", "scale": {"domain": [0, 20], "nice": false}, "axis": {"values": [0, 2.5, 5, 7.5, 10, 12.5, 15, 17.5, 20], "format": ".1f", "title": null}},
     "y": {"field": "v", "type": "quantitative", "scale": {"domain": [-5.35, 0.45], "nice": false, "zero": false}, "axis": {"values": [-4, -2, 0], "format": "d", "title": "z(m)"}},
     "color": {"field": "s", "type": "nominal", "scale": {"domain": ["ref", "Case 1", "Case 2", "Case 3", "Case 4"], "range": ["#ff0000", "#1f77b4", "#ff7f0e", "#2ca02c", "#d62728"]}, "legend": null},
     "strokeDash": {"field": "s", "type": "nominal", "scale": {"domain": ["ref", "Case 1", "Case 2", "Case 3", "Case 4"], "range": [[5, 3], [1, 0], [1, 0], [1, 0], [1, 0]]}, "legend": null},
     "strokeWidth": {"field": "s", "type": "ordinal", "scale": {"domain": ["ref", "Case 1", "Case 2", "Case 3", "Case 4"], "range": [2.2, 1.3, 1.3, 1.3, 1.3]}, "legend": null}
    },
    "layer": [
     {"transform": [{"filter": "datum.s === 'ref'"}], "mark": "line"},
     {"transform": [{"filter": "datum.s !== 'ref'"}], "mark": "line"}
    ]
   },
   {
    "width": 227, "height": 47, "data": {"name": "ppsi"},
    "encoding": {
     "x": {"field": "t", "type": "quantitative", "scale": {"domain": [0, 20], "nice": false}, "axis": {"values": [0, 2.5, 5, 7.5, 10, 12.5, 15, 17.5, 20], "format": ".1f", "title": null}},
     "y": {"field": "v", "type": "quantitative", "scale": {"domain": [-49.5, 50.5], "nice": false, "zero": false}, "axis": {"values": [-25, 0, 25, 50], "format": "d", "title": "ψ(deg)"}},
     "color": {"field": "s", "type": "nominal", "scale": {"domain": ["ref", "Case 1", "Case 2", "Case 3", "Case 4"], "range": ["#ff0000", "#1f77b4", "#ff7f0e", "#2ca02c", "#d62728"]}, "legend": null},
     "strokeDash": {"field": "s", "type": "nominal", "scale": {"domain": ["ref", "Case 1", "Case 2", "Case 3", "Case 4"], "range": [[5, 3], [1, 0], [1, 0], [1, 0], [1, 0]]}, "legend": null},
     "strokeWidth": {"field": "s", "type": "ordinal", "scale": {"domain": ["ref", "Case 1", "Case 2", "Case 3", "Case 4"], "range": [2.2, 1.3, 1.3, 1.3, 1.3]}, "legend": null}
    },
    "layer": [
     {"transform": [{"filter": "datum.s === 'ref'"}], "mark": "line"},
     {"transform": [{"filter": "datum.s !== 'ref'"}], "mark": "line"}
    ]
   },
   {
    "width": 227, "height": 47, "data": {"name": "pphi"},
    "encoding": {
     "x": {"field": "t", "type": "quantitative", "scale": {"domain": [0, 20], "nice": false}, "axis": {"values": [0, 2.5, 5, 7.5, 10, 12.5, 15, 17.5, 20], "format": ".1f", "title": null}},
     "y": {"field": "v", "type": "quantitative", "scale": {"domain": [-60, 52], "nice": false, "zero": false}, "axis": {"values": [-50, 0, 50], "format": "d", "title": "ϕ(deg)"}},
     "color": {"field": "s", "type": "nominal", "scale": {"domain": ["ref", "Case 1", "Case 2", "Case 3", "Case 4"], "range": ["#ff0000", "#1f77b4", "#ff7f0e", "#2ca02c", "#d62728"]}, "legend": null},
     "strokeDash": {"field": "s", "type": "nominal", "scale": {"domain": ["ref", "Case 1", "Case 2", "Case 3", "Case 4"], "range": [[5, 3], [1, 0], [1, 0], [1, 0], [1, 0]]}, "legend": null},
     "strokeWidth": {"field": "s", "type": "ordinal", "scale": {"domain": ["ref", "Case 1", "Case 2", "Case 3", "Case 4"], "range": [2.2, 1.3, 1.3, 1.3, 1.3]}, "legend": null}
    },
    "mark": "line"
   },
   {
    "width": 227, "height": 47, "data": {"name": "ptheta"},
    "encoding": {
     "x": {"field": "t", "type": "quantitative", "scale": {"domain": [0, 20], "nice": false}, "axis": {"values": [0, 2.5, 5, 7.5, 10, 12.5, 15, 17.5, 20], "format": ".1f", "title": "time(s)"}},
     "y": {"field": "v", "type": "quantitative", "scale": {"domain": [-90, 33], "nice": false, "zero": false}, "axis": {"values": [-50, 0], "format": "d", "title": "θ(deg)"}},
     "color": {"field": "s", "type": "nominal", "scale": {"domain": ["ref", "Case 1", "Case 2", "Case 3", "Case 4"], "range": ["#ff0000", "#1f77b4", "#ff7f0e", "#2ca02c", "#d62728"]}, "legend": null},
     "strokeDash": {"field": "s", "type": "nominal", "scale": {"domain": ["ref", "Case 1", "Case 2", "Case 3", "Case 4"], "range": [[5, 3], [1, 0], [1, 0], [1, 0], [1, 0]]}, "legend": null},
     "strokeWidth": {"field": "s", "type": "ordinal", "scale": {"domain": ["ref", "Case 1", "Case 2", "Case 3", "Case 4"], "range": [2.2, 1.3, 1.3, 1.3, 1.3]}, "legend": null}
    },
    "mark": "line"
   }
  ]
 },
 {
  "spacing": 16,
  "bounds": "flush",
  "title": {"text": "(b) The tracking errors", "orient": "bottom", "font": "DejaVu Serif", "fontSize": 10, "fontWeight": "normal", "color": "#000", "offset": 6, "anchor": "middle"},
  "resolve": {"scale": {"x": "independent", "y": "independent", "color": "independent"}, "legend": {"color": "independent"}},
  "vconcat": [
   {
    "width": 226, "height": 67,
    "encoding": {"x": {"field": "t", "type": "quantitative", "scale": {"domain": [0, 20], "nice": false}, "axis": {"values": [0, 2.5, 5, 7.5, 10, 12.5, 15, 17.5, 20], "format": ".1f", "title": null}}},
    "layer": [
     {"data": {"name": "ex"}, "mark": {"type": "line", "strokeWidth": 1.3},
      "encoding": {
       "y": {"field": "v", "type": "quantitative", "scale": {"domain": [-2.3, 3.35], "nice": false, "zero": false}, "axis": {"values": [-2, 0, 2], "format": "d", "title": "ex(m)"}},
       "color": {"field": "s", "type": "nominal", "scale": {"domain": ["Case 1", "Case 2", "Case 3", "Case 4"], "range": ["#1f77b4", "#ff7f0e", "#2ca02c", "#d62728"]}, "legend": {"title": null, "orient": "top", "direction": "horizontal", "columns": 4, "symbolType": "stroke", "symbolSize": 144, "symbolStrokeWidth": 1.3, "labelFont": "Liberation Serif", "labelFontSize": 8.2, "labelColor": "#000", "columnPadding": 15, "gridAlign": "each", "strokeColor": "#cccccc", "padding": 1.5, "cornerRadius": 2, "offset": 4, "labelOffset": 4, "labelLimit": 0}}
      }},
     {"data": {"name": "marker"}, "mark": {"type": "rule", "color": "#1f77b4", "strokeDash": [4, 3], "strokeWidth": 1.1}},
     {"data": {"name": "marker"}, "mark": {"type": "text", "align": "left", "baseline": "middle", "dx": 1.5, "font": "Liberation Serif", "fontSize": 5.8, "color": "#333"},
      "encoding": {"y": {"datum": 2.67}, "text": {"field": "label"}}}
    ]
   },
   {
    "width": 226, "height": 67,
    "encoding": {"x": {"field": "t", "type": "quantitative", "scale": {"domain": [0, 20], "nice": false}, "axis": {"values": [0, 2.5, 5, 7.5, 10, 12.5, 15, 17.5, 20], "format": ".1f", "title": null}}},
    "layer": [
     {"data": {"name": "ey"}, "mark": {"type": "line", "strokeWidth": 1.3},
      "encoding": {
       "y": {"field": "v", "type": "quantitative", "scale": {"domain": [-2.3, 3.55], "nice": false, "zero": false}, "axis": {"values": [-2, 0, 2], "format": "d", "title": "ey(m)"}},
       "color": {"field": "s", "type": "nominal", "scale": {"domain": ["Case 1", "Case 2", "Case 3", "Case 4"], "range": ["#1f77b4", "#ff7f0e", "#2ca02c", "#d62728"]}, "legend": null}
      }},
     {"data": {"name": "marker"}, "mark": {"type": "rule", "color": "#1f77b4", "strokeDash": [4, 3], "strokeWidth": 1.1}},
     {"data": {"name": "marker"}, "mark": {"type": "text", "align": "left", "baseline": "middle", "dx": 1.5, "font": "Liberation Serif", "fontSize": 5.8, "color": "#333"},
      "encoding": {"y": {"datum": 2.94}, "text": {"field": "label"}}}
    ]
   },
   {
    "width": 226, "height": 67,
    "encoding": {"x": {"field": "t", "type": "quantitative", "scale": {"domain": [0, 20], "nice": false}, "axis": {"values": [0, 2.5, 5, 7.5, 10, 12.5, 15, 17.5, 20], "format": ".1f", "title": null}}},
    "layer": [
     {"data": {"name": "ez"}, "mark": {"type": "line", "strokeWidth": 1.3},
      "encoding": {
       "y": {"field": "v", "type": "quantitative", "scale": {"domain": [-2.2, 3.3], "nice": false, "zero": false}, "axis": {"values": [-2, 0, 2], "format": "d", "title": "ez(m)"}},
       "color": {"field": "s", "type": "nominal", "scale": {"domain": ["Case 1", "Case 2", "Case 3", "Case 4"], "range": ["#1f77b4", "#ff7f0e", "#2ca02c", "#d62728"]}, "legend": null}
      }},
     {"data": {"name": "marker"}, "mark": {"type": "rule", "color": "#1f77b4", "strokeDash": [4, 3], "strokeWidth": 1.1}},
     {"data": {"name": "marker"}, "mark": {"type": "text", "align": "left", "baseline": "middle", "dx": 1.5, "font": "Liberation Serif", "fontSize": 5.8, "color": "#333"},
      "encoding": {"y": {"datum": 1.85}, "text": {"field": "label"}}}
    ]
   },
   {
    "width": 226, "height": 67,
    "encoding": {"x": {"field": "t", "type": "quantitative", "scale": {"domain": [0, 20], "nice": false}, "axis": {"values": [0, 2.5, 5, 7.5, 10, 12.5, 15, 17.5, 20], "format": ".1f", "title": "time(s)"}}},
    "layer": [
     {"data": {"name": "epsi"}, "mark": {"type": "line", "strokeWidth": 1.3},
      "encoding": {
       "y": {"field": "v", "type": "quantitative", "scale": {"domain": [-0.72, 0.72], "nice": false, "zero": false}, "axis": {"values": [-0.5, 0, 0.5], "format": ".1f", "title": "eψ(deg)"}},
       "color": {"field": "s", "type": "nominal", "scale": {"domain": ["Case 1", "Case 2", "Case 3", "Case 4"], "range": ["#1f77b4", "#ff7f0e", "#2ca02c", "#d62728"]}, "legend": null}
      }},
     {"data": {"name": "marker"}, "mark": {"type": "rule", "color": "#1f77b4", "strokeDash": [4, 3], "strokeWidth": 1.1}},
     {"data": {"name": "marker"}, "mark": {"type": "text", "align": "left", "baseline": "middle", "dx": 1.5, "font": "Liberation Serif", "fontSize": 5.8, "color": "#333"},
      "encoding": {"y": {"datum": 0.57}, "text": {"field": "label"}}}
    ]
   }
  ]
 }
]
}
